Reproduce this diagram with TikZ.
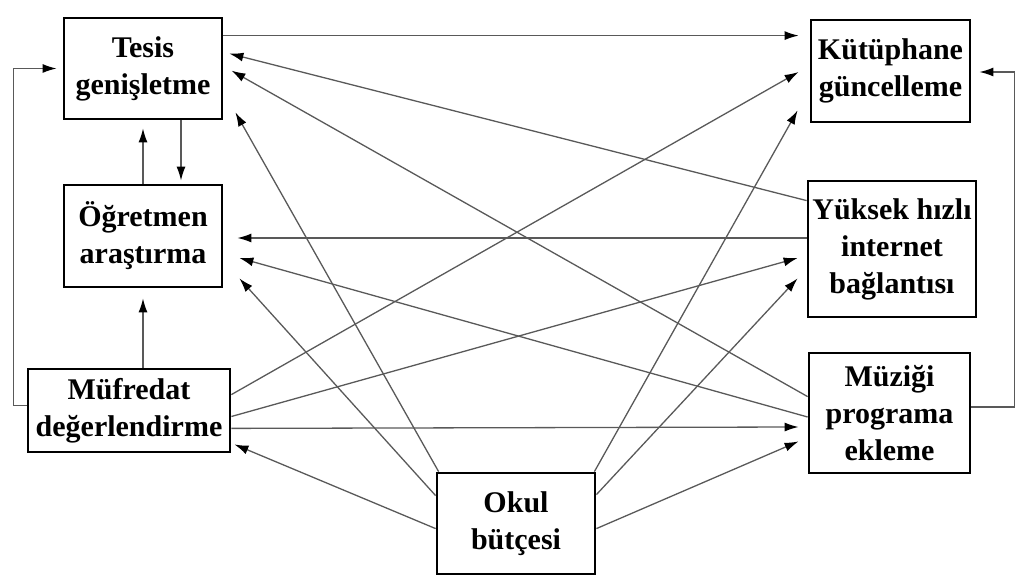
\documentclass[tikz,border=0pt]{standalone}
\usepackage{fontspec}
\setmainfont{Liberation Serif}
\usetikzlibrary{arrows.meta}

\begin{document}
\begin{tikzpicture}[x=0.5pt, y=-0.5pt,
  every node/.style={font=\bfseries\fontsize{15}{18.5}\selectfont},
  kutu/.style={draw, line width=1.4pt, align=center, inner sep=0pt},
  ok/.style={draw=black!65, line width=0.65pt, -{Latex[length=7pt,width=4.5pt,color=black]}}]
  \useasboundingbox (0,0) rectangle (1015,581);
  \node[kutu, minimum width=79pt, minimum height=50.5pt] (tesis) at (143,68.5) {Tesis\\genişletme};
  \node[kutu, minimum width=79pt, minimum height=51pt] (ogretmen) at (143,236) {Öğretmen\\araştırma};
  \node[kutu, minimum width=101pt, minimum height=41.5pt] (mufredat) at (129,410.5) {Müfredat\\değerlendirme};
  \node[kutu, minimum width=79pt, minimum height=50.5pt] (butce) at (516,523.5) {Okul\\bütçesi};
  \node[kutu, minimum width=79.5pt, minimum height=51pt] (kutup) at (890.5,71) {Kütüphane\\güncelleme};
  \node[kutu, minimum width=84pt, minimum height=68pt] (internet) at (892,249) {Yüksek hızlı\\internet\\bağlantısı};
  \node[kutu, minimum width=80.5pt, minimum height=60pt] (muzik) at (889.5,413) {Müziği\\programa\\ekleme};
  % tesis
  \draw[ok] ([shift={(0,19)}]tesis.north east) -- ([shift={(-11,17)}]kutup.north west);
  \draw[ok] ([shift={(0,21)}]internet.north west) -- ([shift={(6,37)}]tesis.north east);
  \draw[ok] ([shift={(0,45)}]muzik.north west) -- ([shift={(8,54)}]tesis.north east);
  \draw[ok] ([shift={(3,0)}]butce.north west) -- ([shift={(12,-8)}]tesis.south east);
  \draw[ok] ([shift={(38,0)}]tesis.south) -- ([shift={(38,-3)}]ogretmen.north);
  \draw[ok] (ogretmen.north) -- ([shift={(0,8)}]tesis.south);
  % ogretmen
  \draw[ok] ([shift={(0,-11)}]internet.west) -- ([shift={(14,2)}]ogretmen.east);
  \draw[ok] ([shift={(0,4)}]muzik.west) -- ([shift={(16,22)}]ogretmen.east);
  \draw[ok] ([shift={(0,24)}]butce.north west) -- ([shift={(16,-10)}]ogretmen.south east);
  % mufredat
  \draw[ok] (mufredat.north -| ogretmen.south) -- ([shift={(0,10)}]ogretmen.south);
  \draw[ok] ([shift={(0,-5)}]mufredat.west) -- ++(-13,0) |- ([shift={(-6,0)}]tesis.west);
  \draw[ok] ([shift={(0,27)}]mufredat.north east) -- ([shift={(-11,1)}]kutup.west);
  \draw[ok] ([shift={(0,6)}]mufredat.east) -- ([shift={(-9,9)}]internet.west);
  \draw[ok] ([shift={(0,-25)}]mufredat.south east) -- ([shift={(-9,14)}]muzik.west);
  % butce
  \draw[ok] ([shift={(0,57)}]butce.north west) -- ([shift={(3,-9)}]mufredat.south east);
  \draw[ok] ([shift={(-2,0)}]butce.north east) -- ([shift={(-12,-13)}]kutup.south west);
  \draw[ok] ([shift={(0,23)}]butce.north east) -- ([shift={(-9,-40)}]internet.south west);
  \draw[ok] ([shift={(0,57)}]butce.north east) -- ([shift={(-9,-33)}]muzik.south west);
  % muzik
  \draw[ok] ([shift={(0,-6)}]muzik.east) -- ++(43,0) |- ([shift={(8,1)}]kutup.east);
\end{tikzpicture}
\end{document}
